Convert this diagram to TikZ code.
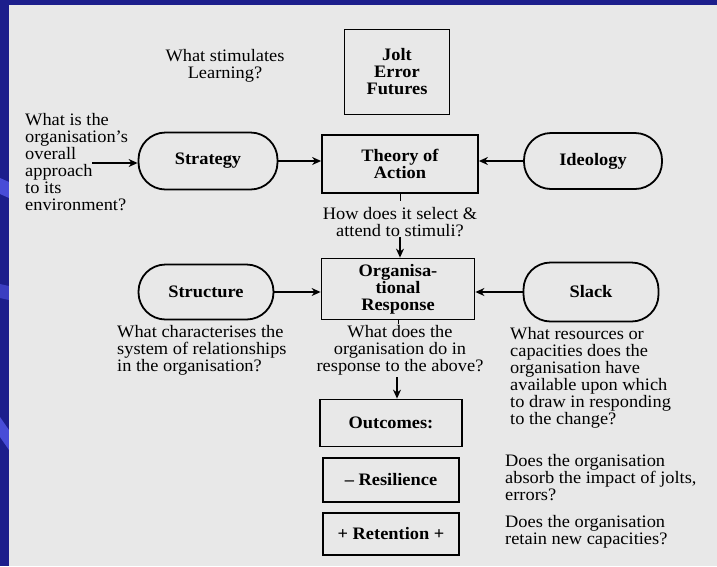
\documentclass[tikz,border=0pt]{standalone}
\usepackage{fontspec}
\setmainfont{Liberation Serif}[FakeStretch=1.05]
\usetikzlibrary{arrows.meta}
\definecolor{pagecol}{RGB}{232,232,232}
\definecolor{bluecol}{RGB}{28,30,140}
\definecolor{streakcol}{RGB}{72,76,215}
\tikzset{
  box/.style={draw,line width=1.8pt,font=\bfseries\fontsize{17.5}{17}\selectfont,align=center,inner sep=2pt},
  pill/.style={box,rounded corners=27pt},
  ask/.style={font=\fontsize{17.5}{17}\selectfont,align=center,inner sep=0pt},
  askl/.style={ask,align=left,anchor=north west},
  arr/.style={line width=1.2pt,-{Stealth[length=9pt,width=8pt]}},
  tick/.style={line width=1pt},
}

\begin{document}
\begin{tikzpicture}[x=1pt,y=-1pt]
  \useasboundingbox (0,0) rectangle (717,566);
  \fill[bluecol] (0,0) rectangle (717,566);
  \fill[streakcol] (0,178) -- (9,182) -- (9,198) -- (0,194) -- cycle;
  \fill[streakcol!70!bluecol] (0,284) -- (9,286) -- (9,300) -- (0,298) -- cycle;
  \fill[streakcol] (0,417) -- (9,430) -- (9,450) -- (0,437) -- cycle;
  \fill[pagecol] (9,5) rectangle (717,566);
  % boxes
  \node[box,minimum width=105pt,minimum height=85pt] (jolt) at (397,72) {Jolt\\Error\\Futures};
  \node[box,minimum width=156pt,minimum height=58pt] (theory) at (400,164) {Theory of\\Action};
  \node[pill,minimum width=139pt,minimum height=57pt] (strategy) at (208,161) {Strategy};
  \node[pill,minimum width=138pt,minimum height=56pt] (ideology) at (593,161) {Ideology};
  \node[box,minimum width=153pt,minimum height=61pt] (org) at (398,289) {Organisa-\\tional\\Response};
  \node[pill,minimum width=135pt,minimum height=55pt] (structure) at (206,292) {Structure};
  \node[pill,minimum width=135pt,minimum height=59pt] (slack) at (591,292) {Slack};
  \node[box,minimum width=142pt,minimum height=47pt] (outcomes) at (391,423) {Outcomes:};
  \node[box,minimum width=136pt,minimum height=44pt] (resil) at (391,480) {-- Resilience};
  \node[box,minimum width=136pt,minimum height=42pt] (retain) at (391,534) {+ Retention +};
  % questions
  \node[ask] (qlearn) at (225,66) {What stimulates\\Learning?};
  \node[askl] (qenv) at (25,113) {What is the\\organisation's\\overall\\approach\\to its\\environment?};
  \coordinate (envend) at (92,163);
  \node[ask] (qsel) at (400,222) {How does it select \&\\attend to stimuli?};
  \node[askl] (qrel) at (117,325) {What characterises the\\system of relationships\\in the organisation?};
  \node[ask] (qdo) at (400,350) {What does the\\organisation do in\\response to the above?};
  \node[askl] (qres) at (510,327) {What resources or\\capacities does the\\organisation have\\available upon which\\to draw in responding\\to the change?};
  \node[askl] (qjolt) at (505,454) {Does the organisation\\absorb the impact of jolts,\\errors?};
  \node[askl] (qcap) at (505,515) {Does the organisation\\retain new capacities?};
  % connectors
  \draw[arr] (envend) -- (envend -| strategy.west);
  \draw[arr] (strategy.east) -- (strategy.east -| theory.west);
  \draw[arr] (ideology.west) -- (ideology.west -| theory.east);
  \draw[tick] (theory.south) -- ++(0,7);
  \draw[arr] (qsel.south) -- (qsel.south |- org.north);
  \draw[arr] (structure.east) -- (structure.east -| org.west);
  \draw[arr] (slack.west) -- (slack.west -| org.east);
  \draw[tick] (org.south) -- ++(0,4);
  \draw[arr] (qdo.south) ++(-3,2) -- (outcomes.north -| 397,0);
\end{tikzpicture}
\end{document}
